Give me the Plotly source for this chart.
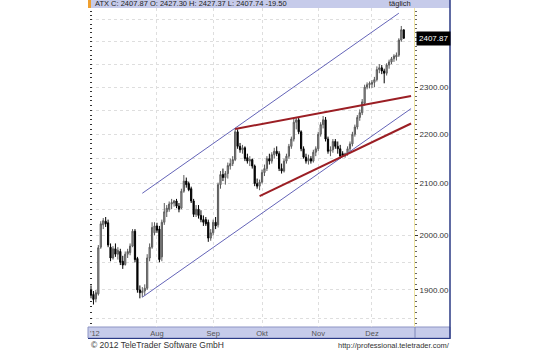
import math
import pandas as pd
import plotly.graph_objects as go

# ---------------- data ----------------
dates = pd.bdate_range("2012-06-25", "2012-12-20").strftime("%Y-%m-%d").tolist()

open_ = [1900, 1892, 1884, 1893, 1978, 2020, 2027, 2024, 1978, 1958,
         1975, 1965, 1970, 1952, 1946, 1965, 1968, 1980, 2008, 1957,
         1900, 1895, 1898, 1903, 1958, 1978, 2005, 2018, 2012, 1960,
         2025, 2045, 2050, 2060, 2062, 2066, 2056, 2052, 2085, 2105,
         2100, 2090, 2066, 2040, 2050, 2038, 2030, 2030, 2025, 1995,
         2005, 2025, 2020, 2098, 2118, 2112, 2120, 2135, 2140, 2148,
         2205, 2175, 2168, 2172, 2152, 2145, 2148, 2135, 2100, 2095,
         2103, 2122, 2130, 2150, 2145, 2158, 2165, 2160, 2130, 2125,
         2145, 2155, 2175, 2190, 2225, 2230, 2205, 2170, 2153, 2145,
         2150, 2145, 2163, 2170, 2200, 2220, 2230, 2190, 2165, 2168,
         2185, 2175, 2170, 2160, 2156, 2160, 2170, 2180, 2200, 2215,
         2235, 2245, 2265, 2300, 2305, 2306, 2310, 2316, 2338, 2342,
         2335, 2330, 2348, 2355, 2362, 2366, 2370, 2404, 2427.30]
high = [1908, 1898, 1900, 1982, 2027, 2033, 2035, 2030, 1985, 1980,
        1985, 1978, 1975, 1962, 1970, 1975, 1985, 2012, 2012, 1960,
        1908, 1905, 1910, 1965, 1985, 2025, 2025, 2024, 2018, 2030,
        2062, 2058, 2065, 2070, 2068, 2070, 2062, 2090, 2117, 2112,
        2104, 2094, 2070, 2058, 2058, 2048, 2038, 2035, 2030, 2012,
        2030, 2035, 2102, 2125, 2130, 2125, 2142, 2150, 2155, 2212,
        2210, 2182, 2178, 2175, 2160, 2155, 2150, 2138, 2110, 2108,
        2128, 2138, 2155, 2160, 2163, 2172, 2175, 2165, 2140, 2150,
        2160, 2180, 2195, 2232, 2236, 2235, 2208, 2175, 2160, 2158,
        2155, 2168, 2175, 2205, 2225, 2238, 2236, 2195, 2175, 2190,
        2190, 2185, 2178, 2165, 2162, 2175, 2185, 2205, 2220, 2240,
        2252, 2274, 2305, 2310, 2312, 2315, 2322, 2345, 2350, 2348,
        2340, 2352, 2360, 2366, 2372, 2376, 2408, 2436, 2427.37]
low = [1885, 1874, 1878, 1890, 1975, 2012, 2016, 1978, 1952, 1955,
       1960, 1955, 1945, 1938, 1944, 1958, 1963, 1978, 1950, 1895,
       1885, 1887, 1890, 1900, 1952, 1975, 2000, 2005, 1950, 1952,
       2020, 2035, 2045, 2050, 2055, 2052, 2044, 2050, 2082, 2092,
       2085, 2062, 2035, 2035, 2032, 2025, 2018, 2018, 1988, 1990,
       2000, 2012, 2015, 2090, 2105, 2098, 2110, 2128, 2135, 2145,
       2170, 2162, 2160, 2145, 2140, 2135, 2130, 2095, 2090, 2087,
       2100, 2115, 2125, 2138, 2140, 2150, 2155, 2125, 2120, 2122,
       2140, 2150, 2170, 2185, 2210, 2200, 2165, 2150, 2140, 2138,
       2140, 2142, 2155, 2165, 2195, 2212, 2185, 2160, 2155, 2162,
       2170, 2160, 2150, 2154, 2152, 2156, 2165, 2175, 2195, 2210,
       2228, 2240, 2260, 2295, 2297, 2298, 2300, 2312, 2330, 2328,
       2308, 2325, 2340, 2350, 2355, 2358, 2366, 2400, 2407.74]
close = [1890, 1883, 1895, 1977, 2022, 2028, 2022, 1982, 1958, 1975,
         1965, 1972, 1950, 1945, 1965, 1970, 1980, 2008, 1955, 1900,
         1895, 1898, 1903, 1958, 1978, 2015, 2018, 2010, 1955, 2025,
         2045, 2052, 2060, 2063, 2066, 2056, 2050, 2085, 2105, 2098,
         2088, 2066, 2040, 2050, 2038, 2030, 2025, 2022, 1995, 2005,
         2025, 2018, 2098, 2118, 2112, 2120, 2136, 2140, 2148, 2205,
         2175, 2168, 2172, 2150, 2145, 2148, 2135, 2100, 2095, 2103,
         2122, 2130, 2150, 2145, 2158, 2165, 2160, 2130, 2125, 2145,
         2155, 2175, 2190, 2225, 2230, 2205, 2170, 2153, 2145, 2150,
         2145, 2163, 2170, 2200, 2220, 2230, 2190, 2165, 2168, 2185,
         2175, 2170, 2155, 2156, 2160, 2170, 2180, 2200, 2215, 2235,
         2245, 2268, 2300, 2305, 2308, 2310, 2316, 2338, 2342, 2335,
         2330, 2348, 2355, 2362, 2368, 2370, 2404, 2427.37, 2407.87]

month_ticks = ["2012-08-01", "2012-09-03", "2012-10-01", "2012-11-01", "2012-12-03"]
month_labels = ["Aug", "Sep", "Okt", "Nov", "Dez"]
price_ticks = [1850, 1900, 1950, 2000, 2050, 2100, 2150, 2200, 2250, 2300, 2350, 2400, 2450]
price_labels = ["", "1900.00", "", "2000.00", "", "2100.00", "", "2200.00", "", "2300.00", "", "", ""]
minor_ticks = list(range(1840, 2480, 10))

channel_up_x = ["2012-07-24", "2012-12-18"]
channel_up_y = [2081, 2465.5]
channel_lo_x = ["2012-07-24", "2012-12-25"]
channel_lo_y = [1887, 2253.7]
wedge_up_x = ["2012-09-14", "2012-12-25"]
wedge_up_y = [2210.8, 2280.6]
wedge_lo_x = ["2012-09-28", "2012-12-25"]
wedge_lo_y = [2075.5, 2222.3]

header_text = "ATX C: 2407.87 O: 2427.30 H: 2427.37 L: 2407.74 -19.50"
last_price = 2407.87

# ---------------- layout helpers ----------------
W, H = 540, 351
PL, PR, PT, PB = 90, 414, 8, 327
def px(X):
    return (X - PL) / (PR - PL)
def py(Y):
    return (PB - Y) / (PB - PT)

FONT = "Liberation Sans, Arial, sans-serif"
NAVY = "#2b3a85"
BAND = "#c6cbea"
GRID = "#dedede"

fig = go.Figure()
fig.add_trace(go.Candlestick(
    x=dates, open=open_, high=high, low=low, close=close,
    increasing=dict(line=dict(color="#5a5a5a", width=1), fillcolor="#a8a8a8"),
    decreasing=dict(line=dict(color="#000000", width=1), fillcolor="#000000"),
    whiskerwidth=0, hoverinfo="skip", showlegend=False))

for xs, ys, col, w in [(channel_up_x, channel_up_y, "#6464b8", 1),
                       (channel_lo_x, channel_lo_y, "#6464b8", 1),
                       (wedge_up_x, wedge_up_y, "#9b1e24", 2),
                       (wedge_lo_x, wedge_lo_y, "#9b1e24", 2)]:
    fig.add_trace(go.Scatter(x=xs, y=ys, mode="lines", line=dict(color=col, width=w),
                             hoverinfo="skip", showlegend=False))

# invisible helper trace for left-side tick axis
fig.add_trace(go.Scatter(x=dates, y=close, yaxis="y2", mode="markers",
                         marker=dict(opacity=0, size=1), hoverinfo="skip", showlegend=False))

yr = [math.log10(1834.8), math.log10(2477.6)]

fig.update_layout(
    width=W, height=H,
    margin=dict(l=PL, r=W - PR, t=PT, b=H - PB),
    paper_bgcolor="white", plot_bgcolor="white",
    font=dict(family=FONT, size=8, color="#333"),
    hovermode=False, showlegend=False,
    xaxis=dict(type="date", range=["2012-06-22 14:10", "2012-12-26 04:48"],
               rangebreaks=[dict(bounds=["sat", "mon"])],
               rangeslider=dict(visible=False),
               tickmode="array", tickvals=month_ticks, ticktext=month_labels,
               showgrid=True, gridcolor=GRID, griddash="dot", gridwidth=1,
               ticks="", showline=False, zeroline=False,
               tickfont=dict(size=7.5, color="#555")),
    yaxis=dict(type="log", range=yr, side="right",
               tickmode="array", tickvals=price_ticks, ticktext=price_labels,
               ticks="outside", ticklen=3, tickcolor="#333",
               showgrid=True, gridcolor=GRID, griddash="dot", gridwidth=1,
               showline=True, linecolor="#efe4a0", linewidth=1, zeroline=False,
               tickfont=dict(size=8, color="#333"),
               minor=dict(tickmode="array", tickvals=minor_ticks, ticks="outside",
                          ticklen=1.5, tickcolor="#666", showgrid=False)),
    yaxis2=dict(type="log", range=yr, overlaying="y", side="left",
                tickmode="array", tickvals=minor_ticks, ticks="inside", ticklen=2,
                tickcolor="#333", showticklabels=False, showgrid=False,
                showline=False, zeroline=False),
)

shapes = [
    dict(type="rect", xref="paper", yref="paper", x0=px(88), x1=px(450), y0=py(8), y1=py(0),
         fillcolor=BAND, line=dict(width=0), layer="below"),
    dict(type="rect", xref="paper", yref="paper", x0=px(88), x1=px(91), y0=py(8), y1=py(0),
         fillcolor="#f0a030", line=dict(width=0), layer="above"),
    dict(type="rect", xref="paper", yref="paper", x0=px(88), x1=px(450), y0=py(338), y1=py(327),
         fillcolor=BAND, line=dict(color="#8d95c4", width=1), layer="below"),
    dict(type="line", xref="paper", yref="paper", x0=px(415), x1=px(415), y0=py(338), y1=py(327),
         line=dict(color="#7d86b8", width=1)),
    dict(type="line", xref="paper", yref="paper", x0=px(450), x1=px(450), y0=py(339), y1=py(0),
         line=dict(color=NAVY, width=1.5)),
    dict(type="line", xref="paper", yref="paper", x0=px(88), x1=px(450), y0=py(338.5), y1=py(338.5),
         line=dict(color=NAVY, width=1)),
]
fig.update_layout(shapes=shapes)

annotations = [
    dict(xref="paper", yref="paper", x=px(93), y=py(4), text=header_text, showarrow=False,
         xanchor="left", yanchor="middle", font=dict(size=7.5, color="#222")),
    dict(xref="paper", yref="paper", x=px(413), y=py(4), text="täglich", showarrow=False,
         xanchor="right", yanchor="middle", font=dict(size=7.5, color="#222")),
    dict(xref="paper", yref="y", x=px(416), y=math.log10(last_price), text=str(last_price),
         showarrow=False, xanchor="left", yanchor="middle", bgcolor="#000000",
         borderpad=2, font=dict(size=8, color="#ffffff")),
    dict(xref="paper", yref="paper", x=px(95), y=py(333), text="'12", showarrow=False,
         xanchor="center", yanchor="middle", font=dict(size=7.5, color="#555")),
    dict(xref="paper", yref="paper", x=px(89), y=py(345), text="© 2012 TeleTrader Software GmbH",
         showarrow=False, xanchor="left", yanchor="middle", font=dict(size=8.5, color="#333")),
    dict(xref="paper", yref="paper", x=px(452), y=py(345), text="http://professional.teletrader.com/",
         showarrow=False, xanchor="right", yanchor="middle", font=dict(size=7.5, color="#333")),
]
fig.update_layout(annotations=annotations)

fig.write_html("out.html")
